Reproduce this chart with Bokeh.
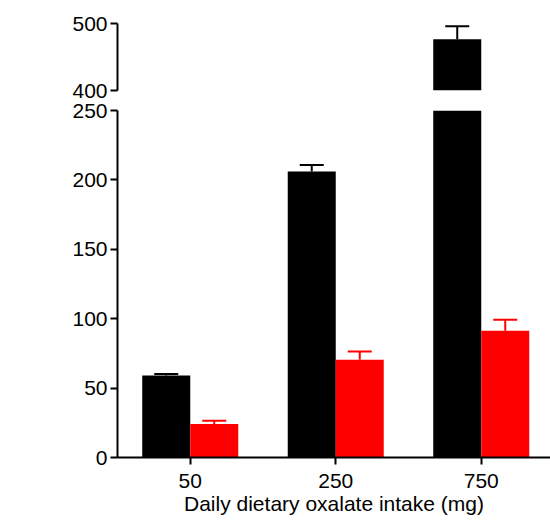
import math
from bokeh.plotting import figure
from bokeh.layouts import column
from bokeh.models import (ColumnDataSource, Range1d, FixedTicker, Whisker, TeeHead,
                          Label, CDSView, BooleanFilter)
from bokeh.embed import file_html
from bokeh.resources import INLINE

# ---- data ----
intake_labels = ["50", "250", "750"]
control_mean = [59.0, 206.0, 476.5]
control_err = [1.2, 4.8, 19.5]
treated_mean = [24.1, 70.4, 91.3]
treated_err = [2.4, 6.0, 8.0]

FONT = "Liberation Sans"
BAR_W = 0.33
UPPER_LO, UPPER_HI = 400, 500
LOWER_LO, LOWER_HI = 0, 250
centers = [i + 0.5 for i in range(len(intake_labels))]

src_c = ColumnDataSource(dict(
    x=[c - BAR_W / 2 for c in centers],
    top=control_mean,
    upper=[m + e for m, e in zip(control_mean, control_err)],
    lower=control_mean,
))
src_t = ColumnDataSource(dict(
    x=[c + BAR_W / 2 for c in centers],
    top=treated_mean,
    upper=[m + e for m, e in zip(treated_mean, treated_err)],
    lower=treated_mean,
))

x_range = Range1d(0, 433 / 145.5)


def style_yaxis(p, ticks):
    ax = p.yaxis[0]
    ax.ticker = FixedTicker(ticks=ticks)
    ax.axis_line_width = 2
    ax.axis_line_color = "black"
    ax.major_tick_line_width = 2
    ax.major_tick_line_color = "black"
    ax.major_tick_out = 7
    ax.major_tick_in = 0
    ax.minor_tick_line_color = None
    ax.major_label_text_font = FONT
    ax.major_label_text_font_size = "21px"
    ax.major_label_text_color = "black"
    ax.major_label_standoff = 3


def add_bars(p, lo):
    for src, means, col in ((src_c, control_mean, "black"),
                            (src_t, treated_mean, "#ff0000")):
        view = CDSView(filter=BooleanFilter([m > lo for m in means]))
        p.vbar(x="x", bottom=0, top="top", width=BAR_W, source=src, view=view,
               fill_color=col, line_color=None)
    for src, col in ((src_c, "black"), (src_t, "#ff0000")):
        w = Whisker(source=src, base="x", upper="upper", lower="lower",
                    dimension="height", line_color=col, line_width=2,
                    upper_head=TeeHead(size=24, line_color=col, line_width=2),
                    lower_head=None)
        p.add_layout(w)


# ---- upper panel (400-500) ----
top_p = figure(width=550, height=100, x_range=x_range,
               y_range=Range1d(UPPER_LO, UPPER_HI),
               output_backend="svg", toolbar_location=None,
               x_axis_location=None,
               min_border_left=117, min_border_right=0,
               min_border_top=23, min_border_bottom=10)
top_p.outline_line_color = None
top_p.grid.visible = False
add_bars(top_p, UPPER_LO)
style_yaxis(top_p, [400, 500])

# ---- lower panel (0-250) ----
bot_p = figure(width=550, height=421, x_range=x_range,
               y_range=Range1d(LOWER_LO, LOWER_HI),
               output_backend="svg", toolbar_location=None,
               min_border_left=117, min_border_right=0,
               min_border_top=10, min_border_bottom=64)
bot_p.outline_line_color = None
bot_p.grid.visible = False
add_bars(bot_p, LOWER_LO - 1)
style_yaxis(bot_p, [0, 50, 100, 150, 200, 250])

xa = bot_p.xaxis[0]
xa.ticker = FixedTicker(ticks=centers)
xa.major_label_overrides = {c: lab for c, lab in zip(centers, intake_labels)}
xa.axis_line_width = 2
xa.axis_line_color = "black"
xa.major_tick_line_width = 2
xa.major_tick_line_color = "black"
xa.major_tick_out = 7
xa.major_tick_in = 0
xa.minor_tick_line_color = None
xa.major_label_text_font = FONT
xa.major_label_text_font_size = "21px"
xa.major_label_text_color = "black"
xa.major_label_standoff = 9
xa.axis_label = "Daily dietary oxalate intake (mg)"
xa.axis_label_text_font = FONT
xa.axis_label_text_font_size = "21px"
xa.axis_label_text_font_style = "normal"
xa.axis_label_text_color = "black"
xa.axis_label_standoff = 1

ylab = Label(x=-97, y=225, x_units="screen", y_units="screen",
             text="Total stool oxalate (mg)", angle=math.pi / 2,
             text_align="center", text_baseline="middle",
             text_font=FONT, text_font_size="21px", text_color="black")
bot_p.add_layout(ylab)

layout = column(top_p, bot_p, spacing=0)
open("out.html", "w").write(file_html(layout, INLINE))
